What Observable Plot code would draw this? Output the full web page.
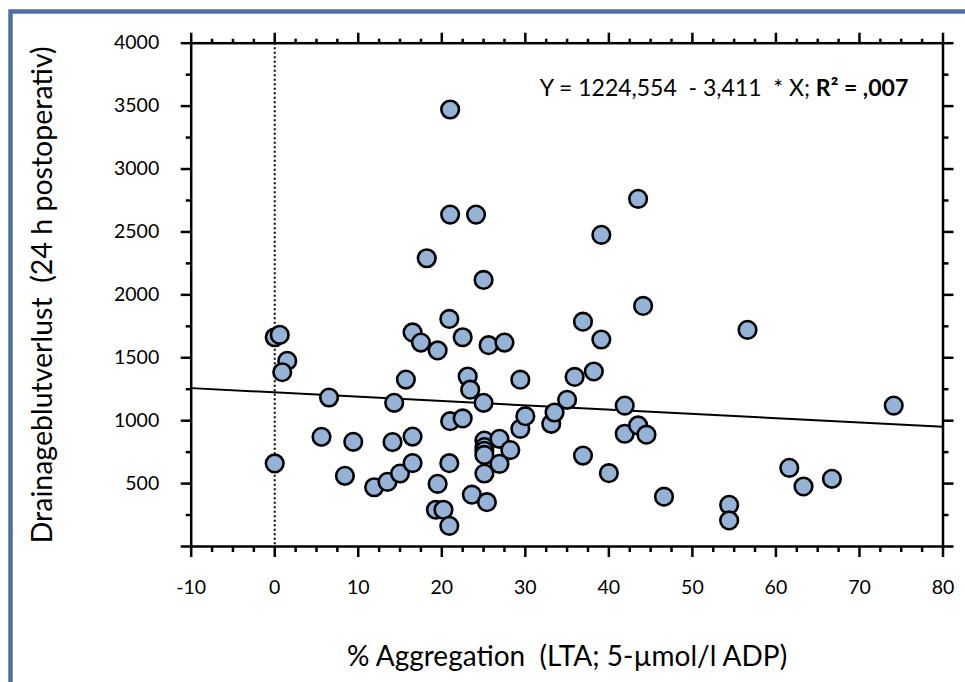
<!DOCTYPE html>
<html>
<head>
<meta charset="utf-8">
<script src="https://cdn.jsdelivr.net/npm/d3@7"></script>
<script src="https://cdn.jsdelivr.net/npm/@observablehq/plot@0.6"></script>
<style>
  html, body { margin: 0; padding: 0; background: white; }
  #chart { width: 965px; height: 682px; overflow: hidden; }
</style>
</head>
<body>
<div id="chart"></div>
<script>
// % Aggregation (x) and Drainageblutverlust (y) per patient
const aggregation = [
  0.0, 0.6, 1.5, 0.9, 0.0, 6.5, 5.6, 8.4, 9.4, 11.9,
  13.5, 14.1, 14.3, 15.0, 15.7, 16.5, 16.5, 16.5, 17.5, 19.5,
  19.5, 19.3, 20.2, 20.9, 20.9, 21.0, 20.9, 21.0, 21.0, 22.5,
  22.5, 23.1, 23.4, 23.6, 24.1, 18.2, 25.0, 25.0, 25.4, 25.6,
  25.1, 25.1, 25.1, 25.1, 25.1, 26.9, 28.2, 26.9, 27.5, 29.4,
  29.4, 30.0, 33.1, 33.5, 35.0, 35.9, 36.9, 36.9, 38.2, 39.1,
  39.1, 40.0, 41.9, 41.9, 43.5, 43.5, 44.5, 44.1, 46.6, 54.4,
  54.4, 56.6, 61.6, 63.3, 66.7, 74.1
];
const bloodLoss = [
  1663, 1682, 1476, 1385, 660, 1184, 872, 562, 832, 471,
  514, 830, 1142, 580, 1327, 874, 663, 1701, 1621, 1558,
  498, 292, 292, 164, 662, 996, 1809, 3473, 2638, 1663,
  1018, 1351, 1246, 412, 2638, 2291, 2119, 1142, 352, 1600,
  842, 790, 760, 728, 580, 856, 766, 657, 1621, 1326,
  935, 1036, 975, 1065, 1166, 1348, 1787, 723, 1391, 1645,
  2477, 583, 1120, 896, 962, 2763, 889, 1912, 396, 331,
  207, 1722, 625, 477, 538, 1120
];
// regression line end points (Y = 1224,554 - 3,411 * X)
const lineX = [-10, 80];
const lineY = [1258.7, 951.7];
// axis ticks
const xMajor = [-10, 0, 10, 20, 30, 40, 50, 60, 70, 80];
const xMinor = [-7.5, -5, -2.5, 2.5, 5, 7.5, 12.5, 15, 17.5, 22.5, 25, 27.5, 32.5, 35, 37.5,
  42.5, 45, 47.5, 52.5, 55, 57.5, 62.5, 65, 67.5, 72.5, 75, 77.5];
const yMajor = [0, 500, 1000, 1500, 2000, 2500, 3000, 3500, 4000];
const yMinor = [250, 750, 1250, 1750, 2250, 2750, 3250, 3750];
const xTitle = "% Aggregation  (LTA; 5-µmol/l ADP)";
const yTitle = "Drainageblutverlust  (24 h postoperativ)";
const eqNormal = "Y = 1224,554  - 3,411  * X; ";
const eqBold = "R² = ,007";

const points = aggregation.map((x, i) => ({x, y: bloodLoss[i]}));
const regression = lineX.map((x, i) => ({x, y: lineY[i]}));

const blank = () => "";
const plot = Plot.plot({
  width: 965,
  height: 682,
  marginLeft: 190.7,
  marginRight: 22.5,
  marginTop: 42.7,
  marginBottom: 136,
  x: {domain: [-10, 80]},
  y: {domain: [0, 4000]},
  style: {fontFamily: "Lato", fontSize: "19.5px", color: "black", background: "white"},
  marks: [
    Plot.ruleX([0], {stroke: "black", strokeWidth: 2, strokeDasharray: "2,2.5"}),
    Plot.line(regression, {x: "x", y: "y", stroke: "black", strokeWidth: 2}),
    Plot.dot(points, {x: "x", y: "y", r: 8.8, fill: "#95b3d7", stroke: "black", strokeWidth: 2.6}),
    Plot.frame({stroke: "black", strokeWidth: 2.5}),
    // bottom
    Plot.axisX(xMajor, {anchor: "bottom", tickSize: 11, tickPadding: 23, strokeWidth: 2.5, fontSize: 19.5, tickFormat: d => String(d), label: null}),
    Plot.axisX(xMinor, {anchor: "bottom", tickSize: 6, strokeWidth: 2.5, tickFormat: blank, label: null}),
    // top
    Plot.axisX(xMajor, {anchor: "top", tickSize: 11, strokeWidth: 2.5, tickFormat: blank, label: null}),
    Plot.axisX(xMinor, {anchor: "top", tickSize: 5, strokeWidth: 2.5, tickFormat: blank, label: null}),
    // left
    Plot.axisY(yMajor, {anchor: "left", tickSize: 10, tickPadding: 22, strokeWidth: 2.5, fontSize: 19.5, tickFormat: d => d === 0 ? "" : String(d), label: null}),
    Plot.axisY(yMinor, {anchor: "left", tickSize: 5, strokeWidth: 2.5, tickFormat: blank, label: null}),
    // right
    Plot.axisY(yMajor, {anchor: "right", tickSize: 10, strokeWidth: 2.5, tickFormat: blank, label: null}),
    Plot.axisY(yMinor, {anchor: "right", tickSize: 5, strokeWidth: 2.5, tickFormat: blank, label: null}),
    // axis titles
    Plot.text([yTitle], {frameAnchor: "left", dx: -148.7, rotate: -90, textAnchor: "middle", lineAnchor: "middle", fontSize: 28.5, fill: "black"}),
    Plot.text([xTitle], {frameAnchor: "bottom", dy: 111, textAnchor: "middle", lineAnchor: "middle", fontSize: 28, fill: "black"})
  ]
});

const svg = d3.select(plot);
// outer blue frame
svg.insert("rect", ":first-child")
  .attr("x", 10.5).attr("y", 11.5).attr("width", 1200).attr("height", 1200)
  .attr("fill", "none").attr("stroke", "#4f6f9d").attr("stroke-width", 4.5);
// equation annotation
const sx = plot.scale("x"), sy = plot.scale("y");
const eq = svg.append("text")
  .attr("x", sx.apply(75.9)).attr("y", sy.apply(3640))
  .attr("dy", "0.35em")
  .attr("text-anchor", "end")
  .attr("font-family", "Lato").attr("font-size", 23).attr("fill", "black")
  .attr("xml:space", "preserve").style("white-space", "pre");
eq.append("tspan").text(eqNormal);
eq.append("tspan").attr("font-weight", "bold").text(eqBold);

document.getElementById("chart").appendChild(plot);
</script>
</body>
</html>
